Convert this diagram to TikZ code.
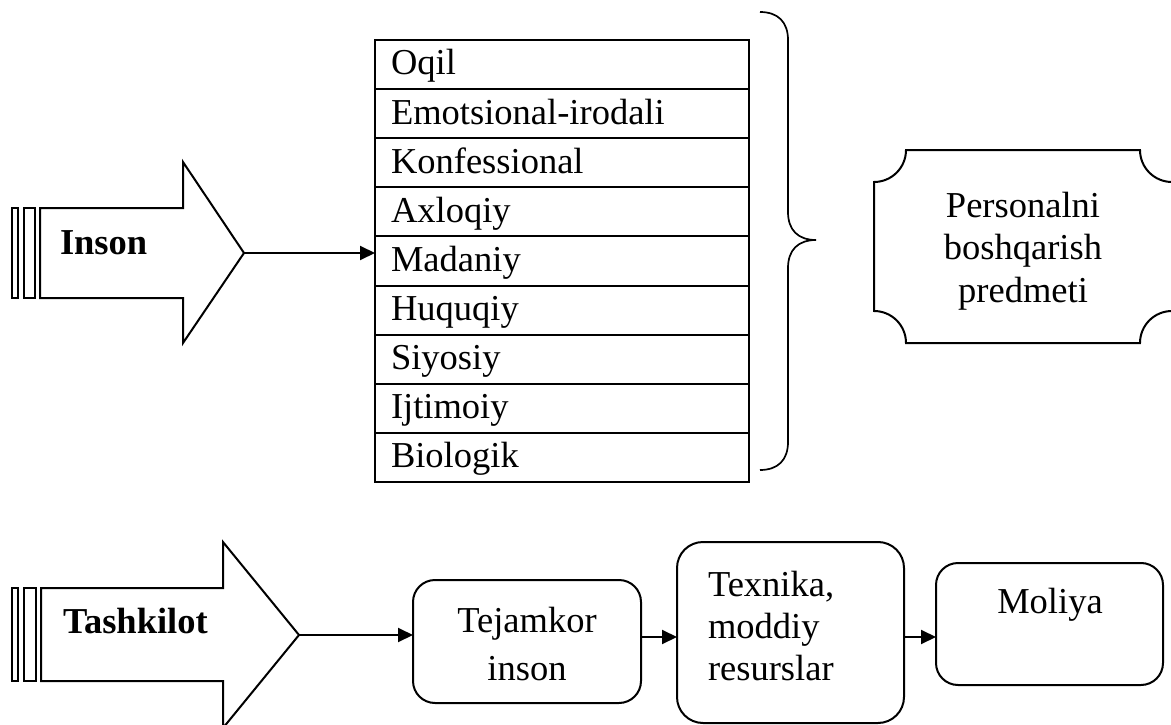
\documentclass[tikz,border=0pt]{standalone}
\usepackage{fontspec}
\setmainfont{Liberation Serif}
\usetikzlibrary{arrows.meta,calc}
\begin{document}
\begin{tikzpicture}[x=1pt,y=-1pt,line join=miter,
  every node/.style={inner sep=0pt,outer sep=0pt},
  outline/.style={draw=black,line width=2pt},
  conn/.style={line width=2pt,-{Triangle[length=15pt,width=14pt]}},
  txt/.style={font=\fontsize{36.5}{42}\selectfont},
  boldtxt/.style={font=\fontsize{36.5}{42}\selectfont\bfseries},
  rowcell/.style={outline,minimum width=374pt,minimum height=49.1pt,anchor=north west},
  roundbox/.style={outline,rounded corners=22pt,anchor=north west}]
\useasboundingbox (0,0) rectangle (1171,725);

% ---- "Inson" striped arrow ----
\draw[outline] (12,208) rectangle (18,298);
\draw[outline] (24,208) rectangle (35,298);
\draw[outline] (40,208) -- (183,208) -- (183,162) -- (244,253) -- (183,343)
  -- (183,298) -- (40,298) -- cycle;
\coordinate (inson-tip) at (244,253);
\node[boldtxt,anchor=base west] (inson) at (60,254) {Inson};

% ---- list of aspects ----
\foreach \lbl [count=\i from 0] in {Oqil,Emotsional-irodali,Konfessional,Axloqiy,
    Madaniy,Huquqiy,Siyosiy,Ijtimoiy,Biologik}{
  \node[rowcell] (r\i) at (375,{40+49.1*\i}) {};
  \node[txt,anchor=base west] (l\i) at ($(r\i.north west)+(16,35)$) {\lbl};
}
\draw[conn] (inson-tip) -- (inson-tip -| r4.west);

% ---- brace ----
\draw[line width=1.7pt] (760,12) .. controls (778,12) and (788,22) .. (788,40)
  -- (788,212) .. controls (788,230) and (798,240) .. (816,240)
  .. controls (798,240) and (788,250) .. (788,268)
  -- (788,442) .. controls (788,460) and (778,470) .. (760,470);

% ---- plaque: subject of personnel management ----
\draw[outline] (906,150) -- (1140,150)
  .. controls (1140,167.7) and (1154.3,182) .. (1172,182) -- (1172,311)
  .. controls (1154.3,311) and (1140,325.3) .. (1140,343) -- (906,343)
  .. controls (906,325.3) and (891.7,311) .. (874,311) -- (874,182)
  .. controls (891.7,182) and (906,167.7) .. (906,150) -- cycle;
\node[font=\fontsize{36.5}{42.5}\selectfont,align=center] (subject) at (1023,251)
  {Personalni\\boshqarish\\predmeti};

% ---- "Tashkilot" striped arrow ----
\draw[outline] (12,588) rectangle (18,681);
\draw[outline] (24,588) rectangle (36,681);
\draw[outline] (41,588) -- (223,588) -- (223,542) -- (299,635) -- (223,728)
  -- (223,681) -- (41,681) -- cycle;
\coordinate (tash-tip) at (299,635);
\node[boldtxt,anchor=base west] (tashkilot) at (63,633) {Tashkilot};

% ---- resource chain ----
\node[roundbox,minimum width=228pt,minimum height=123pt] (t1) at (413,580) {};
\node[roundbox,rounded corners=26pt,minimum width=227pt,minimum height=181pt] (t2) at (677,542) {};
\node[roundbox,minimum width=227pt,minimum height=122pt] (t3) at (936,563) {};

\node[font=\fontsize{36.5}{48}\selectfont,align=center] (t1txt) at (527,644.5) {Tejamkor\\inson};
\node[txt,align=left,anchor=west] (t2txt) at (708,626) {Texnika,\\moddiy\\resurslar};
\node[txt,anchor=base] (t3txt) at (1050,613) {Moliya};

\coordinate (chain-y) at (0,637);
\draw[conn] (tash-tip) -- (tash-tip -| t1.west);
\draw[conn] (t1.east |- chain-y) -- (t2.west |- chain-y);
\draw[conn] (t2.east |- chain-y) -- (t3.west |- chain-y);
\end{tikzpicture}
\end{document}
